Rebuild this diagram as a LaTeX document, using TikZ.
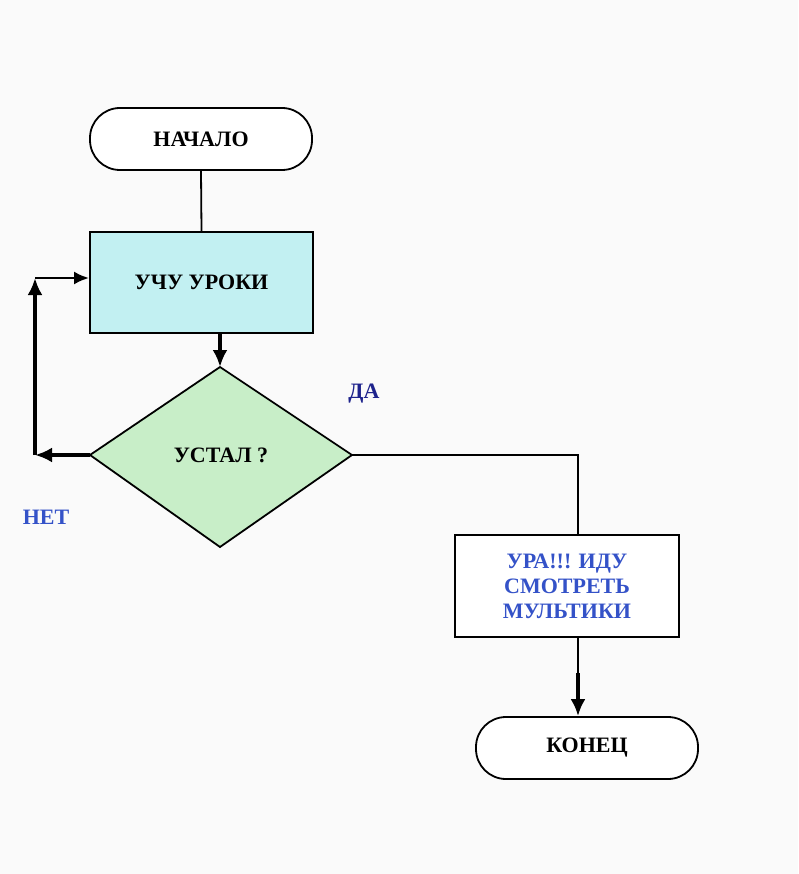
\documentclass[tikz,border=0pt]{standalone}
\usepackage{fontspec}
\setmainfont{Liberation Serif}
\usetikzlibrary{arrows.meta}
\definecolor{bg}{RGB}{250,250,250}
\definecolor{procfill}{RGB}{194,240,242}
\definecolor{decfill}{RGB}{200,238,200}
\definecolor{bluetxt}{RGB}{52,82,200}
\definecolor{navytxt}{RGB}{30,35,140}
\begin{document}
\begin{tikzpicture}[x=1pt,y=-1pt,
  txt/.style={font=\bfseries\fontsize{22}{25}\selectfont},
  term/.style={txt, draw, fill=white, line width=1.8pt, rounded corners=30pt, minimum width=222pt, minimum height=62pt},
  proc/.style={txt, draw, line width=1.8pt, minimum width=223pt, minimum height=101pt, align=center},
  thin/.style={line width=1.8pt},
  thickarrow/.style={line width=3.6pt, -{Latex[length=17pt,width=15pt]}},
  thinarrow/.style={line width=2.6pt, -{Latex[length=15pt,width=13pt]}},
  lbl/.style={txt}
]
\useasboundingbox (0,0) rectangle (798,874);
\fill[bg] (0,0) rectangle (798,874);

% start
\node[term] (start) at (201,139) {НАЧАЛО};
% process
\node[proc, fill=procfill] (learn) at (201.5,282.5) {УЧУ УРОКИ};
\draw[thin] (start.south) -- (learn.north);

% decision
\coordinate (dt) at (220,367);
\coordinate (dr) at (352,455);
\coordinate (db) at (220,547);
\coordinate (dl) at (90,455);
\draw[thin, fill=decfill] (dt) -- (dr) -- (db) -- (dl) -- cycle;
\node[txt] (tired) at (221,455) {УСТАЛ ?};
\draw[thickarrow] (learn.south -| dt) -- (dt);

% NO loop
\coordinate (nb) at (35,455);
\coordinate (nt) at (35,278);
\draw[thickarrow] (dl) -- (nb);
\draw[thickarrow] (nb) -- (nt);
\draw[thinarrow] (nt) -- (nt -| learn.west);
\node[lbl, text=bluetxt] (no) at (46,517) {НЕТ};

% YES branch
\node[lbl, text=navytxt] (yes) at (364,394) {ДА};
\node[proc, fill=white, text=bluetxt, minimum width=224pt, minimum height=102pt] (result) at (567,586) {УРА!!! ИДУ\\СМОТРЕТЬ\\МУЛЬТИКИ};
\coordinate (yc) at (578,455);
\draw[thin] (dr) -- (yc) -- (result.north -| yc);

% end
\node[term] (finish) at (587,748) {КОНЕЦ};
\coordinate (mid) at (578,673);
\draw[thin] (result.south -| yc) -- (mid);
\draw[thickarrow] (mid) -- (finish.north -| yc);
\end{tikzpicture}
\end{document}
